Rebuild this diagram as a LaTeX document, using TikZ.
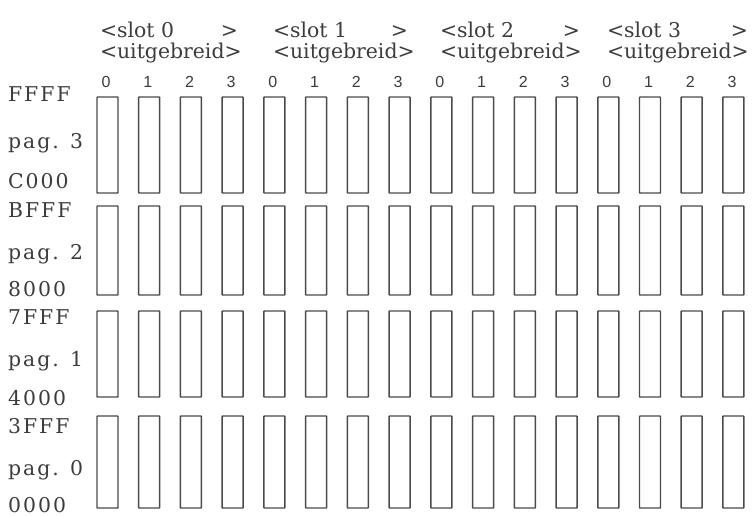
\documentclass[tikz,border=0pt]{standalone}
\usepackage{fontspec}
\setmainfont{DejaVu Serif}
\newfontfamily\labelfont[LetterSpace=10]{DejaVu Serif}
\newfontfamily\digitfont{Liberation Sans}
\definecolor{ink}{HTML}{3C3C3C}
\definecolor{boxink}{HTML}{4A4A4A}
\begin{document}
\begin{tikzpicture}[x=0.75pt,y=-0.75pt,
  cell/.style={draw=boxink, line width=1.1pt, minimum width=15.75pt, inner sep=0pt, outer sep=0pt, rounded corners=0.4pt},
  hdr/.style={anchor=base west, inner sep=0pt, outer sep=0pt, text=ink, font=\fontsize{15.3}{15}\selectfont},
  lbl/.style={anchor=base west, inner sep=0pt, outer sep=0pt, text=ink, font=\labelfont\fontsize{15.3}{15}\selectfont},
  dig/.style={anchor=base, inner sep=0pt, outer sep=0pt, text=ink, font=\digitfont\fontsize{12}{12}\selectfont}]
\useasboundingbox (0,0) rectangle (752,515);
% boxes
\foreach \r/\t/\b in {3/97/193, 2/206/295, 1/311/397, 0/416/508} {
  \foreach \c in {0,...,15} {
    \pgfmathsetmacro\xl{97+41.73*\c}
    \node[cell, minimum height={(\b-\t)*0.75pt}, anchor=north west] (b\r-\c) at (\xl,\t) {};
  }
}
% digits
\foreach \c in {0,...,15} {
  \pgfmathsetmacro\xc{97+41.73*\c+9}
  \pgfmathtruncatemacro\dd{mod(\c,4)}
  \node[dig] (d\c) at (\xc,87) {\dd};
}
% slot headers
\foreach \k/\xs/\xe in {0/100/238, 1/273/408, 2/440/580, 3/607/748} {
  \node[hdr] (s\k) at (\xs,37) {<slot \k};
  \node[hdr, anchor=base east] (g\k) at (\xe,37) {>};
  \node[hdr] (u\k) at (\xs,58) {<uitgebreid>};
}
% address labels
\foreach \n/\txt/\yb in {a0/FFFF/101, a1/pag. 3/148, a2/C000/188, a3/BFFF/217, a4/pag. 2/259, a5/8000/296, a6/7FFF/324, a7/pag. 1/366, a8/4000/405, a9/3FFF/433, a10/pag. 0/475, a11/0000/512} {
  \node[lbl] (\n) at (8,\yb) {\txt};
}
\end{tikzpicture}
\end{document}
